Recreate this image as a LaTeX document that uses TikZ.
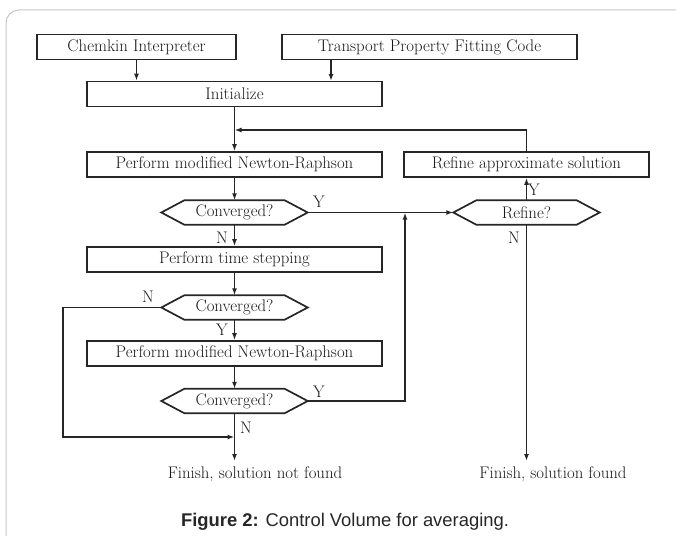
\documentclass[tikz,border=0pt]{standalone}
\usepackage{fontspec}
\newfontfamily\capfont{Liberation Sans}
\usepackage{tikz}
\usetikzlibrary{arrows.meta, calc, positioning}

\begin{document}
\begin{tikzpicture}[x=1pt, y=-1pt, font=\fontsize{16.8}{19}\selectfont,
	wire/.style={black!85, line width=1.7pt},
	arr/.style={wire, -{Latex[length=7pt, width=5pt]}},
	box/.style={wire, draw, rectangle, inner sep=0pt, minimum height=25pt, text=black!90},
	hex/.style={inner sep=0pt, minimum width=146pt, minimum height=24pt, text=black!90},
	lbl/.style={text=black!90, inner sep=0pt}]
	\useasboundingbox (0,0) rectangle (676,535);
	\draw[gray!45, line width=1pt, rounded corners=13pt] (6,560) -- (6,10) -- (700,10);
	\node[box, minimum width=199pt] (chem) at (136.5,47) {Chemkin Interpreter};
	\node[box, minimum width=295pt] (trans) at (429.5,47) {Transport Property Fitting Code};
	\node[box, minimum width=295pt] (init) at (234.5,94) {Initialize};
	\node[box, minimum width=295pt] (newton1) at (234.5,164.5) {Perform modified Newton-Raphson};
	\node[box, minimum width=245pt] (refine) at (526.5,164.5) {Refine approximate solution};
	\node[hex] (conv1) at (234.5,212.5) {Converged?};
	\node[hex] (refq) at (526.5,212.5) {Refine?};
	\node[box, minimum width=295pt] (time) at (234.5,259.5) {Perform time stepping};
	\node[hex] (conv2) at (234.5,307.5) {Converged?};
	\node[box, minimum width=295pt] (newton2) at (234.5,353.5) {Perform modified Newton-Raphson};
	\node[hex] (conv3) at (234.5,401) {Converged?};
	\node[lbl] (fail) at (255,474) {Finish, solution not found};
	\node[lbl] (done) at (553,474) {Finish, solution found};
	\node[lbl, text=black!85, font=\capfont\fontsize{18.4}{22}\selectfont] (caption) at (345,522)
		{\textbf{Figure 2:} Control Volume for averaging.};
	\foreach \h in {conv1, conv2, conv3, refq}{
		\draw[wire] (\h.west) -- ($(\h.north west)+(23,0)$) -- ($(\h.north east)+(-23,0)$)
		-- (\h.east) -- ($(\h.south east)+(-23,0)$) -- ($(\h.south west)+(23,0)$) -- cycle;
	}
	\coordinate (tin) at (331,81);
	\coordinate (jn) at (234.5,130);
	\coordinate (jr) at (405,212.5);
	\coordinate (lp) at (63,437);
	\coordinate (jl) at (234.5,437);
	\coordinate (e1) at (234.5,461);
	\coordinate (e2) at (526.5,461);
	\draw[arr] (chem) -- (chem |- init.north);
	\draw[arr] (tin |- trans.south) -- (tin);
	\draw[arr] (init) -- (newton1);
	\draw[arr] (refine.north) -- (refine.north |- jn) -- (jn);
	\draw[arr] (newton1) -- (conv1);
	\draw[arr] (conv1) -- (time);
	\draw[arr] (conv1.east) -- (refq.west);
	\draw[arr] (refq) -- (refine);
	\draw[arr] (refq) -- (e2);
	\draw[arr] (time) -- (conv2);
	\draw[arr] (conv2) -- (newton2);
	\draw[arr] (newton2) -- (conv3);
	\draw[arr] (conv2.west) -- (conv2.west -| lp) -- (lp) -- (jl);
	\draw[arr] (conv3.east) -- (conv3.east -| jr) -- (jr);
	\draw[arr] (conv3) -- (e1);
	\node[lbl] (n1) at (222,238) {N};
	\node[lbl] (y1) at (319,202) {Y};
	\node[lbl] (y4) at (534,190) {Y};
	\node[lbl] (n4) at (514,238) {N};
	\node[lbl] (n2) at (148,297) {N};
	\node[lbl] (y2) at (222,330) {Y};
	\node[lbl] (y3) at (319,392) {Y};
	\node[lbl] (n3) at (246,428) {N};
\end{tikzpicture}
\end{document}
